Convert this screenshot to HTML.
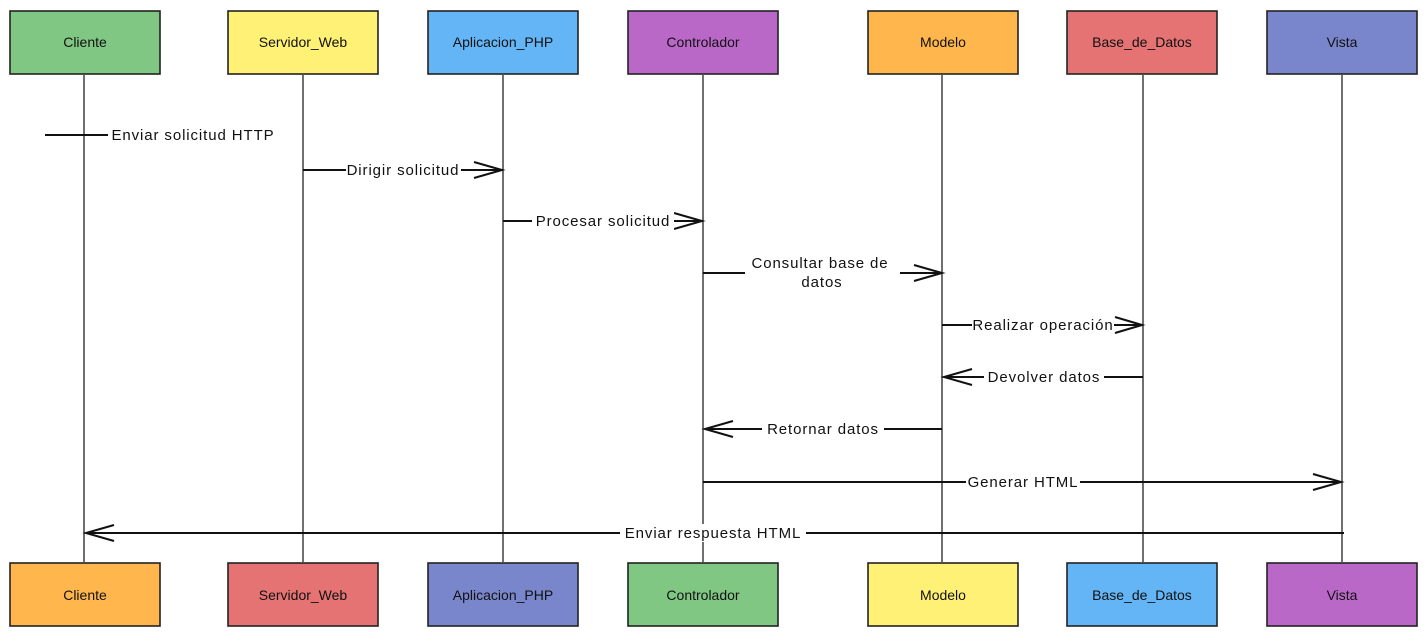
<!DOCTYPE html>
<html><head><meta charset="utf-8"><style>
body{margin:0;background:#fff;width:1428px;height:638px;overflow:hidden}
svg text{font-family:"Liberation Sans",sans-serif;font-size:14px;fill:#111}
.m text{font-size:15px;letter-spacing:0.9px}
</style></head><body>
<svg width="1428" height="638" viewBox="0 0 1428 638" xmlns="http://www.w3.org/2000/svg">
<g stroke="#222" stroke-width="1.3">
<line x1="84" y1="75" x2="84" y2="562"/>
<line x1="303" y1="75" x2="303" y2="562"/>
<line x1="503" y1="75" x2="503" y2="562"/>
<line x1="703" y1="75" x2="703" y2="562"/>
<line x1="942" y1="75" x2="942" y2="562"/>
<line x1="1143" y1="75" x2="1143" y2="562"/>
<line x1="1342" y1="75" x2="1342" y2="562"/>
</g>
<g stroke="#222" stroke-width="1.6">
<rect x="10" y="11" width="150" height="63" fill="#81c784"/>
<rect x="228" y="11" width="150" height="63" fill="#fff176"/>
<rect x="428" y="11" width="150" height="63" fill="#64b5f6"/>
<rect x="628" y="11" width="150" height="63" fill="#ba68c8"/>
<rect x="868" y="11" width="150" height="63" fill="#ffb74d"/>
<rect x="1067" y="11" width="150" height="63" fill="#e57373"/>
<rect x="1267" y="11" width="150" height="63" fill="#7986cb"/>
<rect x="10" y="563" width="150" height="63" fill="#ffb74d"/>
<rect x="228" y="563" width="150" height="63" fill="#e57373"/>
<rect x="428" y="563" width="150" height="63" fill="#7986cb"/>
<rect x="628" y="563" width="150" height="63" fill="#81c784"/>
<rect x="868" y="563" width="150" height="63" fill="#fff176"/>
<rect x="1067" y="563" width="150" height="63" fill="#64b5f6"/>
<rect x="1267" y="563" width="150" height="63" fill="#ba68c8"/>
</g>
<g text-anchor="middle">
<text x="85" y="47">Cliente</text><text x="303" y="47">Servidor_Web</text><text x="503" y="47">Aplicacion_PHP</text><text x="703" y="47">Controlador</text><text x="943" y="47">Modelo</text><text x="1142" y="47">Base_de_Datos</text><text x="1342" y="47">Vista</text>
<text x="85" y="600">Cliente</text><text x="303" y="600">Servidor_Web</text><text x="503" y="600">Aplicacion_PHP</text><text x="703" y="600">Controlador</text><text x="943" y="600">Modelo</text><text x="1142" y="600">Base_de_Datos</text><text x="1342" y="600">Vista</text>
</g>
<g stroke="#111" stroke-width="2" fill="none">
<line x1="45" y1="135" x2="110" y2="135"/>
<line x1="303" y1="170" x2="500" y2="170"/><polyline points="474,162 502,170 474,178"/>
<line x1="503" y1="221" x2="700" y2="221"/><polyline points="674,213 702,221 674,229"/>
<line x1="703" y1="273" x2="745" y2="273"/><line x1="900" y1="273" x2="942" y2="273"/><polyline points="914,265 942,273 914,281"/>
<line x1="942" y1="325" x2="1142" y2="325"/><polyline points="1115,317 1142,325 1115,333"/>
<line x1="945" y1="377" x2="1143" y2="377"/><polyline points="972,369 944,377 972,385"/>
<line x1="705" y1="429" x2="942" y2="429"/><polyline points="733,421 705,429 733,437"/>
<line x1="703" y1="482" x2="1340" y2="482"/><polyline points="1313,474 1341,482 1313,490"/>
<line x1="86" y1="533" x2="1344" y2="533"/><polyline points="114,525 86,533 114,541"/>
</g>
<g text-anchor="middle" class="m">
<rect x="108" y="126" width="172" height="18" fill="#fff"/><text x="193" y="140">Enviar solicitud HTTP</text>
<rect x="346" y="161" width="115" height="18" fill="#fff"/><text x="403" y="175">Dirigir solicitud</text>
<rect x="532" y="212" width="142" height="18" fill="#fff"/><text x="603" y="226">Procesar solicitud</text>
<text x="820" y="268">Consultar base de</text><text x="822" y="287">datos</text>
<rect x="972" y="316" width="142" height="18" fill="#fff"/><text x="1043" y="330">Realizar operación</text>
<rect x="984" y="368" width="120" height="18" fill="#fff"/><text x="1044" y="382">Devolver datos</text>
<rect x="762" y="420" width="122" height="18" fill="#fff"/><text x="823" y="434">Retornar datos</text>
<rect x="966" y="473" width="114" height="18" fill="#fff"/><text x="1023" y="487">Generar HTML</text>
<rect x="620" y="524" width="186" height="18" fill="#fff"/><text x="713" y="538">Enviar respuesta HTML</text>
</g>
</svg>
</body></html>
